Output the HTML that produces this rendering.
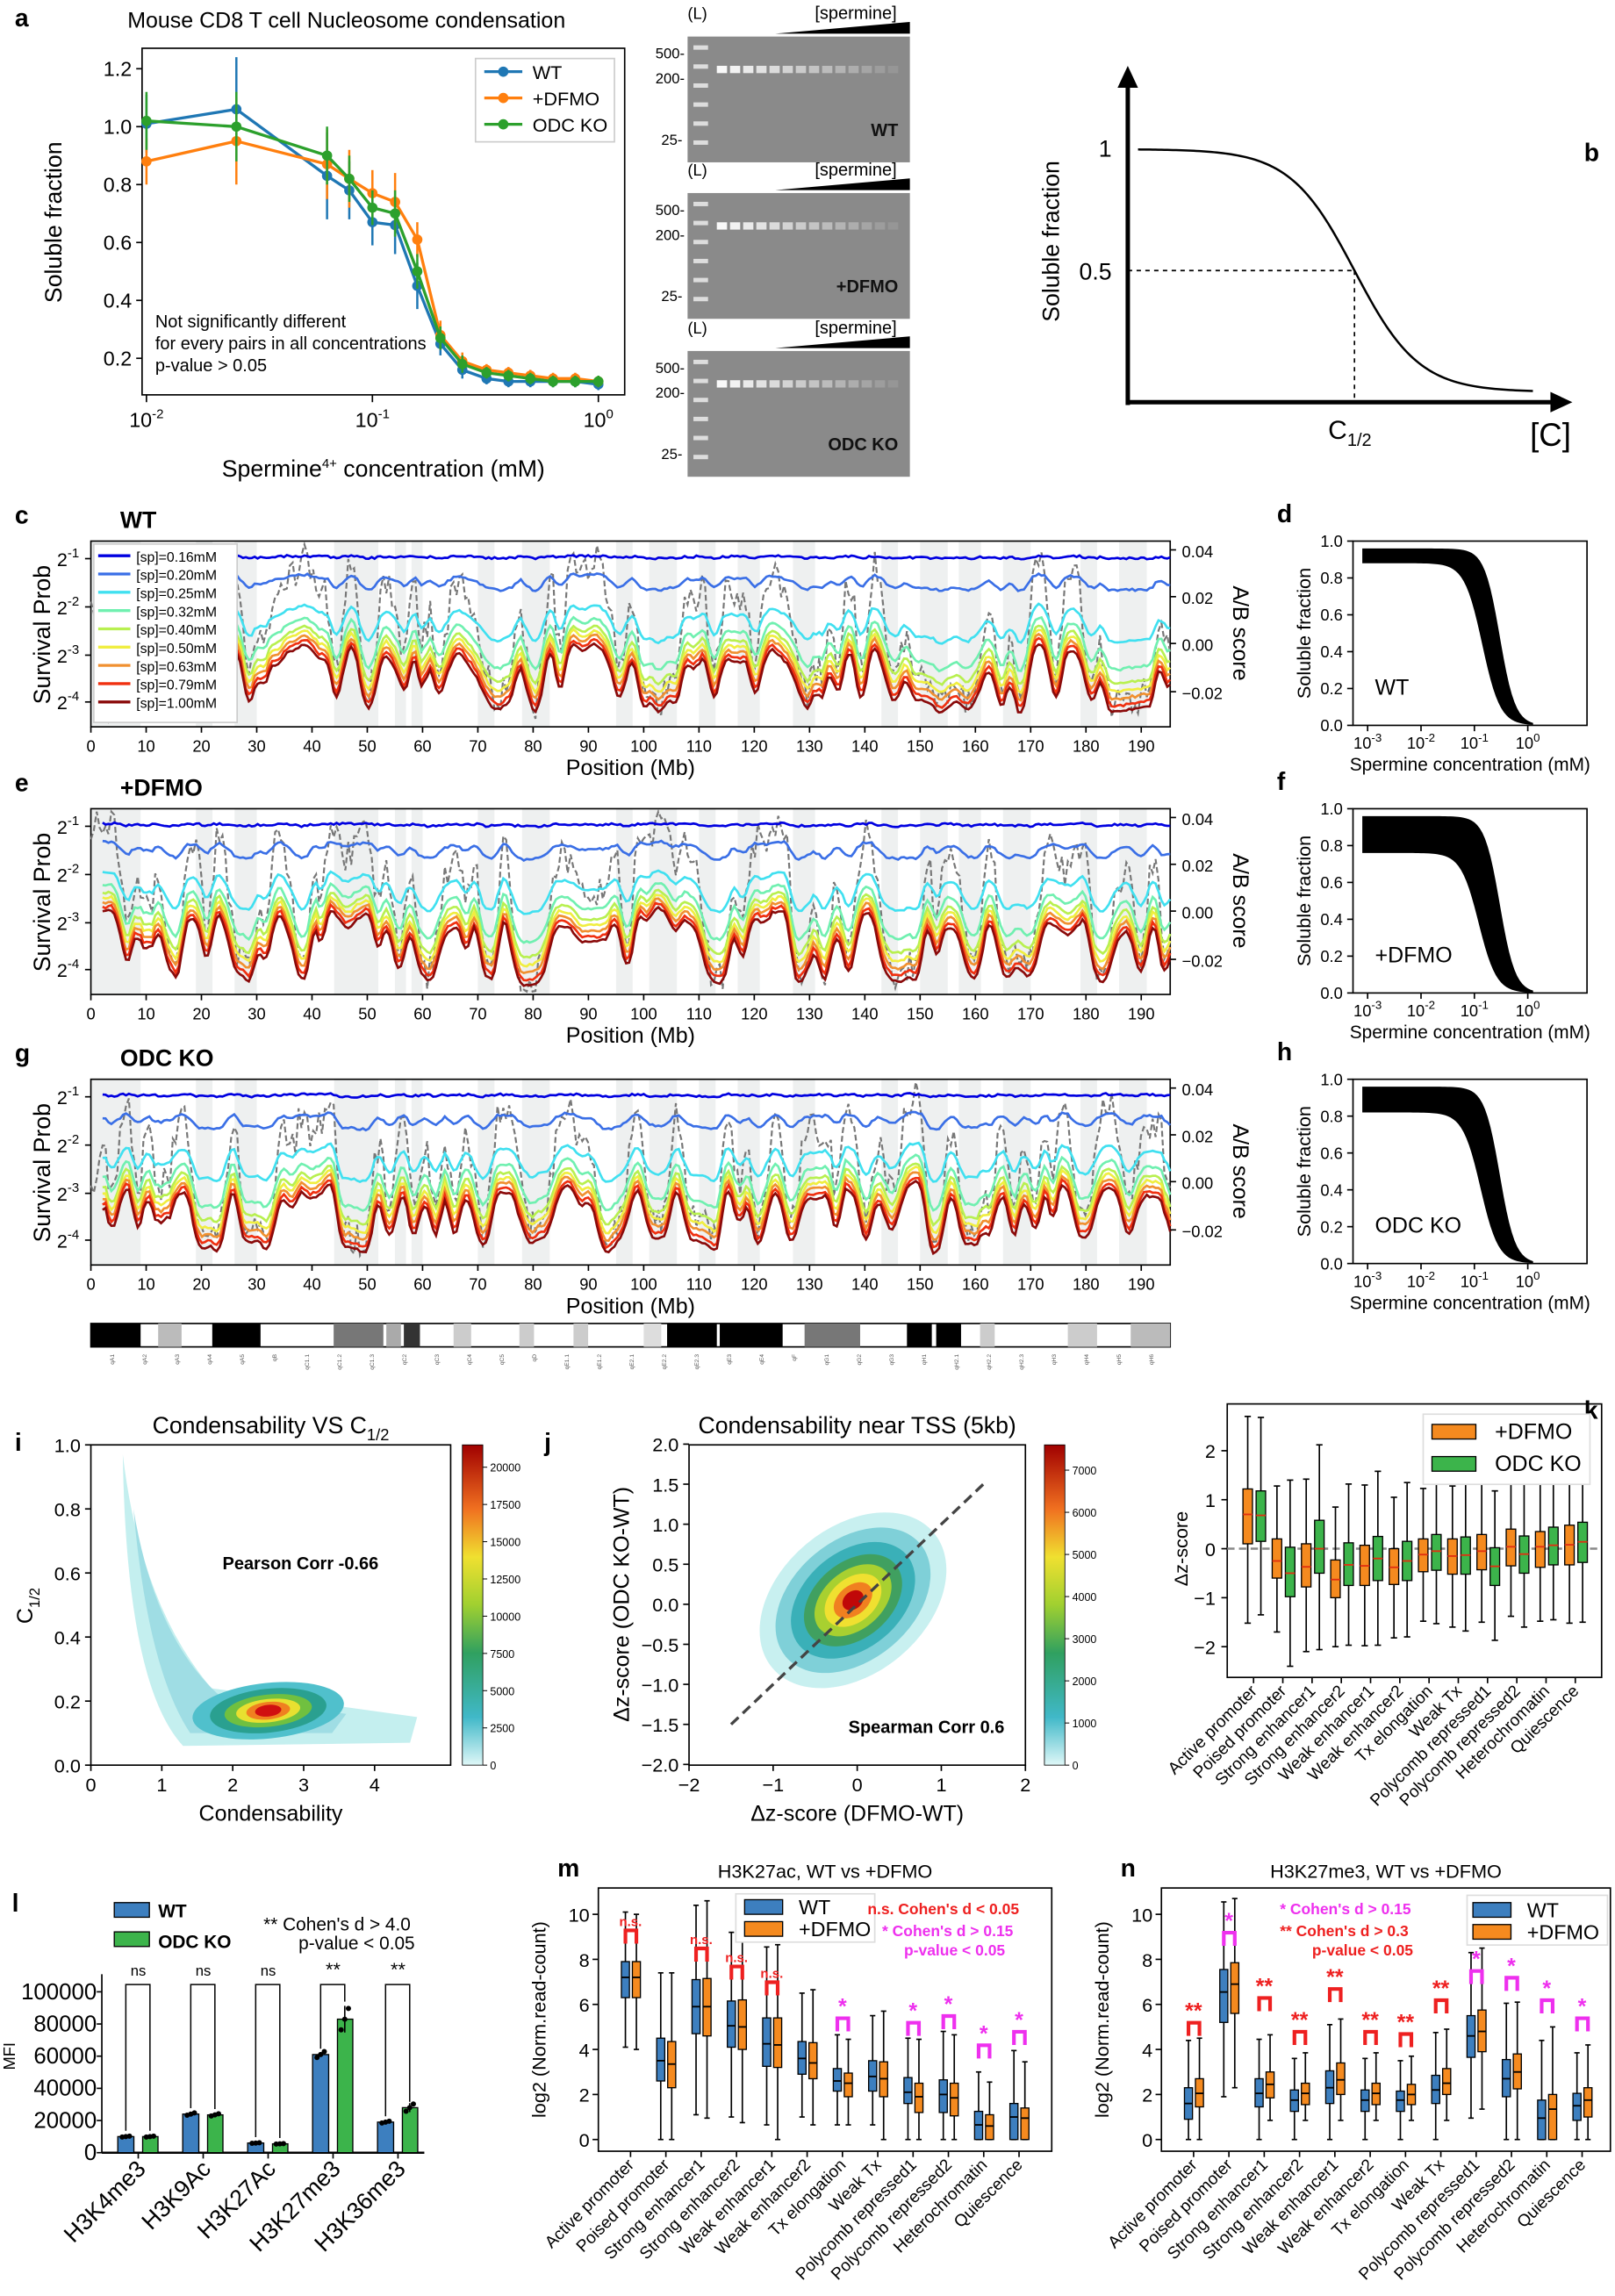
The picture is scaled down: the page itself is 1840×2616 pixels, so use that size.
<!DOCTYPE html>
<html><head><meta charset="utf-8">
<style>
html,body{margin:0;padding:0;background:#fff;}
svg{display:block;font-family:"Liberation Sans",sans-serif;}
</style></head>
<body>
<svg id="s" width="1840" height="2616" viewBox="0 0 1104 1570" xmlns="http://www.w3.org/2000/svg"></svg>
<script>
const S=document.getElementById('s');let H='';
function t(x,y,s,sz,o){o=o||{};H+=`<text x="${x}" y="${y}" font-size="${sz}" ${o.a?`text-anchor="${o.a}"`:''} ${o.w?'font-weight="bold"':''} fill="${o.c||'#000'}" ${o.r!==undefined?`transform="rotate(${o.r} ${x} ${y})"`:''}>${s}</text>`;}
function L(x1,y1,x2,y2,c,w,d){H+=`<line x1="${x1}" y1="${y1}" x2="${x2}" y2="${y2}" stroke="${c||'#000'}" stroke-width="${w||1}" ${d?`stroke-dasharray="${d}"`:''}/>`;}
function R(x,y,w,h,f,st,sw){H+=`<rect x="${x}" y="${y}" width="${w}" height="${h}" fill="${f||'none'}" ${st?`stroke="${st}" stroke-width="${sw||1}"`:''}/>`;}
function P(d,c,w,f,da){H+=`<path d="${d}" stroke="${c||'#000'}" stroke-width="${w||1}" fill="${f||'none'}" ${da?`stroke-dasharray="${da}"`:''}/>`;}
let seed=7;function rnd(){seed=(seed*16807)%2147483647;return seed/2147483647;}

// ===== panel a =====
t(10,18,'a',17,{w:1});
t(87,19,'Mouse CD8 T cell Nucleosome condensation',15);
R(97,33,330,237,'none','#000');
const ay=v=>245-(v-0.2)*198, ax=c=>100+(Math.log10(c)+2)*154.5;
[0.2,0.4,0.6,0.8,1.0,1.2].forEach(v=>{L(93,ay(v),97,ay(v));t(90,ay(v)+5,v.toFixed(1),14,{a:'end'});});
[[0.01,'10','-2'],[0.1,'10','-1'],[1,'10','0']].forEach(([c,b,e])=>{L(ax(c),270,ax(c),275);H+=`<text x="${ax(c)}" y="292" font-size="14" text-anchor="middle">${b}<tspan dy="-6" font-size="9">${e}</tspan></text>`;});
t(262,326,'Spermine<tspan dy="-6" font-size="9">4+</tspan><tspan dy="6"> concentration (mM)</tspan>',16,{a:'middle'});
t(42,152,'Soluble fraction',16,{a:'middle',r:-90});
const cs=[0.01,0.025,0.063,0.079,0.1,0.126,0.158,0.2,0.25,0.32,0.4,0.5,0.63,0.79,1.0];
const sers=[['#1f77b4',[1.01,1.06,0.83,0.78,0.67,0.66,0.45,0.25,0.16,0.13,0.12,0.12,0.12,0.12,0.11],[.1,.18,.15,.1,.08,.1,.08,.04,.03,.02,.02,.02,.02,.02,.02]],
['#ff7f0e',[0.88,0.95,0.87,0.82,0.77,0.74,0.61,0.28,0.19,0.16,0.15,0.14,0.13,0.13,0.12],[.08,.15,.12,.1,.08,.1,.06,.05,.03,.02,.02,.02,.02,.02,.02]],
['#2ca02c',[1.02,1.0,0.9,0.82,0.72,0.7,0.5,0.27,0.18,0.15,0.14,0.13,0.12,0.12,0.12],[.1,.12,.1,.08,.06,.08,.06,.04,.03,.02,.02,.02,.02,.02,.02]]];
sers.forEach(([c,v,e])=>{let d='';v.forEach((y,i)=>{d+=(i?'L':'M')+ax(cs[i])+' '+ay(y);L(ax(cs[i]),ay(y-e[i]),ax(cs[i]),ay(y+e[i]),c,1.5);});P(d,c,2);v.forEach((y,i)=>H+=`<circle cx="${ax(cs[i])}" cy="${ay(y)}" r="3.5" fill="${c}"/>`);});
R(325,40,95,57,'#fff','#ccc');
['WT','+DFMO','ODC KO'].forEach((n,i)=>{L(331,49+i*18,357,49+i*18,sers[i][0],2);H+=`<circle cx="344" cy="${49+i*18}" r="3.5" fill="${sers[i][0]}"/>`;t(364,54+i*18,n,13);});
t(106,224,'Not significantly different',12);t(106,239,'for every pairs in all concentrations',12);t(106,254,'p-value &gt; 0.05',12);
[[15,'WT'],[122,'+DFMO'],[230,'ODC KO']].forEach(([y0,lab])=>{
 t(470,y0-2,'(L)',11);t(557,y0-2,'[spermine]',12);H+=`<polygon points="530,${y0+8} 622,${y0} 622,${y0+8}" fill="#000"/>`;
 R(470,y0+10,152,86,'#8a8a8a');
 for(let k=0;k<6;k++)R(474,y0+16+k*13,10,3,'#ddd');
 for(let k=0;k<14;k++){const o=Math.max(0.05,0.95-k*0.065);H+=`<rect x="${490+k*9}" y="${y0+30}" width="7" height="5" fill="#fff" opacity="${o}"/>`;}
 t(448,y0+25,'500-',10);t(448,y0+42,'200-',10);t(452,y0+84,'25-',10);
 t(614,y0+78,lab,12,{a:'end',w:1,c:'#111'});
});

// ===== panel b =====
t(1083,110,'b',17,{w:1});
P('M771 277 L771 52',"#000",3);H+='<polygon points="764,60 771,45 778,60" fill="#000"/>';
P('M771 275 L1065 275',"#000",3);H+='<polygon points="1060,268 1075,275 1060,282" fill="#000"/>';
{let d='';for(let x=778;x<=1048;x+=2){const y=268-166/(1+Math.exp((x-926)/22));d+=(x==778?'M':'L')+x+' '+y;}P(d,'#000',1.5);}
L(771,185,926,185,'#000',1,'3,3');L(926,185,926,275,'#000',1,'3,3');
t(760,107,'1',16,{a:'end'});t(760,191,'0.5',16,{a:'end'});
t(724,165,'Soluble fraction',16,{a:'middle',r:-90});
t(908,300,'C<tspan dy="5" font-size="12">1/2</tspan>',18);t(1046,305,'[C]',22);

// ===== tracks c,e,g =====
const xm=m=>62+m*3.78;
const bands=[[0,9],[19,22],[26,30],[44,52],[55,57],[58,60],[70,73],[78,83],[95,98],[101,106],[110,113],[117,121],[127,131],[143,146],[150,155],[157,161],[165,170],[179,182],[186,191]];
const N=738;
function makeSig(sd){seed=sd;let tg=[];let i=0;while(i<=N+20){const m=i/3.78;const inb=bands.some(b=>m>=b[0]&&m<=b[1]);let v=rnd();v=inb?(v<0.3?0.7+rnd()*0.3:rnd()*0.3):(v<0.35?rnd()*0.3:0.55+rnd()*0.45);const len=2+Math.floor(rnd()*9);tg.push([i,v]);i+=len;}
 let s=[];let k=0;for(let i=0;i<=N;i++){while(tg[k+1][0]<i)k++;const u=(i-tg[k][0])/(tg[k+1][0]-tg[k][0]);s.push(tg[k][1]*(1-u)+tg[k+1][1]*u);}
 return s.map((v,i)=>{let a=0,n=0;for(let q=-3;q<=3;q++){const j=i+q;if(j>=0&&j<=N){a+=s[j];n++;}}return a/n;});}
const cols=['#0000e0','#3a6fe6','#40e0f0','#70f0b0','#b8f050','#f0ee40','#f09030','#f03010','#8a0a0a'];
const lows=[12,35,72,92,102,108,113,118,122], highs=[10,22,42,50,55,58,61,64,67];
function track(y0,lab,ltr,legend,sd){
 const sg=makeSig(sd);
 t(10,y0-12,ltr,17,{w:1});t(82,y0-9,lab,16,{w:1});
 bands.forEach(b=>R(xm(b[0]),y0,(b[1]-b[0])*3.78,127,'#eef0f0'));
 R(62,y0,738,127,'none','#000');
 let d='';seed=sd+3;for(let i=0;i<=N;i+=2){let v=sg[i]+(rnd()-0.5)*0.2;let y=y0+122-v*118;y=Math.min(y0+125,Math.max(y0+2,y));d+=(i?'L':'M')+(62+i)+' '+y.toFixed(1);}P(d,'#777',1.3,'none','4,2');
 lows.forEach((lw,k)=>{let d='';seed=100+k+sd;for(let i=8;i<=N;i+=2){let y=y0+lw-(lw-highs[k])*sg[i]+(rnd()-0.5)*1.6;if(k==0)y=y0+12+(rnd()-0.5)*1.5-sg[i]*2;y=Math.min(y0+125,Math.max(y0+2,y));d+=(i==8?'M':'L')+(62+i)+' '+y.toFixed(1);}P(d,cols[k],1.6);});
 [[-1,12],[-2,45],[-3,78],[-4,110]].forEach(([e,o])=>{L(58,y0+o,62,y0+o);t(54,y0+o+5,`2<tspan dy="-6" font-size="9">${e}</tspan>`,13,{a:'end'});});
 [['0.04',6],['0.02',38],['0.00',70],['−0.02',103]].forEach(([s,o])=>{L(800,y0+o,804,y0+o);t(808,y0+o+5,s,11);});
 t(843,y0+63,'A/B score',15,{a:'middle',r:90});
 t(34,y0+64,'Survival Prob',16,{a:'middle',r:-90});
 for(let m=0;m<=190;m+=10){L(xm(m),y0+127,xm(m),y0+131);t(xm(m),y0+144,m,11,{a:'middle'});}
 t(431,y0+160,'Position (Mb)',15,{a:'middle'});
 if(legend){R(64,y0+2,98,122,'#fff','#ccc');['0.16','0.20','0.25','0.32','0.40','0.50','0.63','0.79','1.00'].forEach((v,i)=>{L(67,y0+10+i*12.5,89,y0+10+i*12.5,cols[i],2);t(93,y0+14+i*12.5,`[sp]=${v}mM`,9.5);});}
}
track(370,'WT','c',true,21);track(553,'+DFMO','e',false,22);track(738,'ODC KO','g',false,23);
R(62,905,738,16,'#fff','#000');
[[62,96,'#000'],[108,124,'#bbb'],[145,178,'#000'],[228,262,'#777'],[264,274,'#aaa'],[276,287,'#333'],[310,322,'#ccc'],[355,365,'#ccc'],[392,402,'#ccc'],[440,452,'#ddd'],[456,490,'#000'],[492,535,'#000'],[550,588,'#777'],[620,637,'#000'],[640,657,'#000'],[670,680,'#ccc'],[730,750,'#ccc'],[773,800,'#bbb']].forEach(a=>R(a[0],905,a[1]-a[0],16,a[2]));
['qA1','qA2','qA3','qA4','qA5','qB','qC1.1','qC1.2','qC1.3','qC2','qC3','qC4','qC5','qD','qE1.1','qE1.2','qE2.1','qE2.2','qE2.3','qE3','qE4','qF','qG1','qG2','qG3','qH1','qH2.1','qH2.2','qH2.3','qH3','qH4','qH5','qH6'].forEach((s,i)=>t(78+i*22.2,926,s,4,{r:-90,a:'end',c:'#555'}));

function sig(y0,lab,ltr,spread,c2){
 t(873,y0-13,ltr,17,{w:1});
 R(925,y0,160,126,'none','#000');
 const xl=l=>935+(l+3)*36.5;const yv=v=>y0+126-v*126;
 [[0,'0.0'],[.2,'0.2'],[.4,'0.4'],[.6,'0.6'],[.8,'0.8'],[1,'1.0']].forEach(([v,s])=>{L(921,yv(v),925,yv(v));t(918,yv(v)+4,s,11,{a:'end'});});
 [-3,-2,-1,0].forEach(e=>{L(xl(e),y0+126,xl(e),y0+130);t(xl(e),y0+142,`10<tspan dy="-5" font-size="8">${e}</tspan>`,11,{a:'middle'});});
 t(1005,y0+157,'Spermine concentration (mM)',12.5,{a:'middle'});
 t(896,y0+63,'Soluble fraction',13,{a:'middle',r:-90});
 let pts=[],pts2=[];for(let l=-3.1;l<=0.1;l+=0.05){const c=Math.pow(10,l);pts.push([xl(l),yv(0.96/(1+Math.pow(c/0.3,3)))]);pts2.push([xl(l),yv((0.96-spread)/(1+Math.pow(c/c2,2.6)))]);}
 let d='M'+pts.map(p=>p.join(' ')).join('L')+'L'+pts2.reverse().map(p=>p.join(' ')).join('L')+'Z';
 H+=`<clipPath id="cl${ltr}"><rect x="925" y="${y0}" width="160" height="126"/></clipPath><path d="${d}" fill="#000" clip-path="url(#cl${ltr})"/>`;
 t(940,y0+105,lab,15);
}
sig(370,'WT','d',0.08,0.14);sig(553,'+DFMO','f',0.2,0.12);sig(738,'ODC KO','h',0.14,0.13);

// ===== panel i =====
t(10,992,'i',17,{w:1});t(185,980,'Condensability VS C<tspan dy="5" font-size="11">1/2</tspan>',16,{a:'middle'});
R(62,988,246,219,'none','#000');
const ix=v=>62+v*48.5, iy=v=>1207-v*219;
[[0,'0.0'],[.2,'0.2'],[.4,'0.4'],[.6,'0.6'],[.8,'0.8'],[1,'1.0']].forEach(([v,s])=>{L(58,iy(v),62,iy(v));t(55,iy(v)+5,s,13,{a:'end'});});
[0,1,2,3,4].forEach(v=>{L(ix(v),1207,ix(v),1211);t(ix(v),1225,v,13,{a:'middle'});});
t(185,1245,'Condensability',15,{a:'middle'});t(22,1098,'C<tspan dy="5" font-size="10">1/2</tspan>',15,{a:'middle',r:-90});
H+=`<path d="M${ix(0.45)} ${iy(0.97)} Q${ix(0.7)} ${iy(0.5)} ${ix(1.7)} ${iy(0.24)} L${ix(4.6)} ${iy(0.15)} L${ix(4.5)} ${iy(0.07)} L${ix(1.3)} ${iy(0.06)} Q${ix(0.5)} ${iy(0.25)} ${ix(0.45)} ${iy(0.97)}Z" fill="#c4efef"/>`;
H+=`<path d="M${ix(0.6)} ${iy(0.8)} Q${ix(0.9)} ${iy(0.4)} ${ix(1.8)} ${iy(0.22)} L${ix(3.6)} ${iy(0.16)} L${ix(3.4)} ${iy(0.1)} L${ix(1.4)} ${iy(0.1)} Q${ix(0.8)} ${iy(0.3)} ${ix(0.6)} ${iy(0.8)}Z" fill="#9fdde4"/>`;
[['#50c0cc',52,19],['#2aa090',40,15],['#70c040',30,11],['#e8e030',22,8],['#f08020',15,6],['#d01010',9,4]].forEach(([c,rx,ry])=>H+=`<ellipse cx="${ix(2.5)}" cy="${iy(0.17)}" rx="${rx}" ry="${ry}" fill="${c}" transform="rotate(-6 ${ix(2.5)} ${iy(0.17)})"/>`);
t(152,1073,'Pearson Corr -0.66',12,{w:1});
function cbar(x,y0,h,ticks,max){H+=`<defs><linearGradient id="g${x}" x1="0" y1="1" x2="0" y2="0"><stop offset="0" stop-color="#dff7f7"/><stop offset="0.15" stop-color="#40b8c8"/><stop offset="0.35" stop-color="#30a060"/><stop offset="0.5" stop-color="#a0d030"/><stop offset="0.65" stop-color="#f0e030"/><stop offset="0.8" stop-color="#f07020"/><stop offset="1" stop-color="#a00000"/></linearGradient></defs>`;R(x,y0,14,h,`url(#g${x})`,'#000',0.5);ticks.forEach(v=>{const y=y0+h-v/max*h;L(x+14,y,x+17,y,'#000',.6);t(x+19,y+3,v,7.5);});}
cbar(316,988,219,[0,2500,5000,7500,10000,12500,15000,17500,20000],21500);

// ===== panel j =====
t(372,992,'j',17,{w:1});t(586,980,'Condensability near TSS (5kb)',16,{a:'middle'});
R(471,988,230,219,'none','#000');
const jx=v=>586+v*57.5, jy=v=>1097-v*54.75;
[2,1.5,1,0.5,0,-0.5,-1,-1.5,-2].forEach(v=>{L(467,jy(v),471,jy(v));t(464,jy(v)+5,v.toFixed(1).replace('-','−'),13,{a:'end'});});
[-2,-1,0,1,2].forEach(v=>{L(jx(v),1207,jx(v),1211);t(jx(v),1225,String(v).replace('-','−'),13,{a:'middle'});});
t(586,1245,'Δz-score (DFMO-WT)',15,{a:'middle'});t(430,1097,'Δz-score (ODC KO-WT)',15,{a:'middle',r:-90});
[['#c8f0f0',72,50],['#7fd0d8',60,41],['#3ab0b8',48,33],['#40a060',38,26],['#a8d030',30,20],['#f0e030',22,15],['#f08020',15,10],['#c00808',8,6]].forEach(([c,rx,ry])=>H+=`<ellipse cx="${jx(-0.05)}" cy="${jy(0.05)}" rx="${rx}" ry="${ry}" fill="${c}" transform="rotate(-40 ${jx(-0.05)} ${jy(0.05)})"/>`);
L(jx(-1.5),jy(-1.5),jx(1.5),jy(1.5),'#444',2,'7,4');
t(580,1185,'Spearman Corr 0.6',12,{w:1});
cbar(714,988,219,[0,1000,2000,3000,4000,5000,6000,7000],7600);

function box(cx,w,q1,med,q3,lo,hi,col,yf,mc){const a=yf(q3),b=yf(q1);L(cx,yf(hi),cx,a);L(cx,b,cx,yf(lo));L(cx-w/3,yf(hi),cx+w/3,yf(hi));L(cx-w/3,yf(lo),cx+w/3,yf(lo));R(cx-w/2,a,w,b-a,col,'#000',0.8);L(cx-w/2,yf(med),cx+w/2,yf(med),mc||'#000',1.1);}
const cats=['Active promoter','Poised promoter','Strong enhancer1','Strong enhancer2','Weak enhancer1','Weak enhancer2','Tx elongation','Weak Tx','Polycomb repressed1','Polycomb repressed2','Heterochromatin','Quiescence'];

// ===== panel k =====
t(1083,970,'k',17,{w:1});
R(839,960,256,187,'none','#000');
const ky=v=>1059-v*33.5;
[2,1,0,-1,-2].forEach(v=>{L(835,ky(v),839,ky(v));t(831,ky(v)+5,String(v).replace('-','−'),13,{a:'end'});});
t(812,1059,'Δz-score',13,{a:'middle',r:-90});
L(839,ky(0),1095,ky(0),'#888',1.5,'5,3');
const kd=[[0.1,0.7,1.22,-1.52,2.7, 0.15,0.68,1.18,-1.35,2.68],[-0.6,-0.25,0.2,-1.7,1.28, -0.98,-0.5,0.03,-2.4,1.4],[-0.78,-0.37,0.1,-2.1,1.42, -0.5,0,0.58,-2.06,2.12],[-1,-0.63,-0.23,-2.0,0.85, -0.75,-0.33,0.12,-1.97,1.32],[-0.75,-0.35,0.07,-1.98,1.3, -0.65,-0.2,0.25,-1.97,1.58],[-0.73,-0.38,0,-1.82,1.05, -0.65,-0.25,0.15,-1.8,1.35],[-0.47,-0.12,0.2,-1.48,1.23, -0.44,-0.05,0.29,-1.53,1.4],[-0.52,-0.15,0.2,-1.6,1.28, -0.52,-0.13,0.24,-1.68,1.38],[-0.43,-0.05,0.29,-1.5,1.35, -0.75,-0.36,0.02,-1.87,1.18],[-0.35,0.04,0.4,-1.38,1.43, -0.5,-0.11,0.26,-1.6,1.43],[-0.38,0.04,0.35,-1.48,1.43, -0.33,0.07,0.44,-1.45,1.45],[-0.33,0.08,0.48,-1.52,1.5, -0.28,0.14,0.54,-1.5,1.53]];
cats.forEach((c,i)=>{const cx=857+i*20,d=kd[i];box(cx-4,6.5,d[0],d[1],d[2],d[3],d[4],'#f58a1f',ky,'#e03010');box(cx+5,6.5,d[5],d[6],d[7],d[8],d[9],'#3cb44b',ky,'#e03010');L(cx,1147,cx,1151);t(cx+3,1157,c,11.5,{a:'end',r:-45});});
R(973,967,114,48,'#fff','#ddd');R(979,974,30,10,'#f58a1f','#000',0.8);t(1022,984,'+DFMO',15);R(979,996,30,10,'#3cb44b','#000',0.8);t(1022,1006,'ODC KO',15);

// ===== panel l =====
t(8,1307,'l',17,{w:1});
L(69.5,1350,69.5,1472);L(69.5,1472,290,1472,'#000',1.5);
const ly=v=>1472-v*0.0011;
[0,20000,40000,60000,80000,100000].forEach(v=>{L(66,ly(v),69.5,ly(v));t(66,ly(v)+5,v,15.5,{a:'end'});});
t(10,1406,'MFI',11,{a:'middle',r:-90});
R(78,1301,24,10,'#3d7fbf','#000',0.8);t(108,1311,'WT',12.5,{w:1});R(78,1321,24,10,'#3cb44b','#000',0.8);t(108,1332,'ODC KO',12.5,{w:1});
t(180,1320,'** Cohen\'s d &gt; 4.0',12.5);t(204,1333,'p-value &lt; 0.05',12.5);
const lv=[[10000,10000],[24000,23500],[6000,5500],[61000,83000],[19000,28000]];
['H3K4me3','H3K9Ac','H3K27Ac','H3K27me3','H3K36me3'].forEach((n,i)=>{const cx=94.4+i*44.4;
 R(cx-14,ly(lv[i][0]),11,1472-ly(lv[i][0]),'#3d7fbf','#000',0.8);R(cx+3,ly(lv[i][1]),10.5,1472-ly(lv[i][1]),'#3cb44b','#000',0.8);
 [-1,0,1].forEach(k=>{H+=`<circle cx="${cx-8.5+k*2.5}" cy="${ly(lv[i][0]*(1+k*0.03))}" r="1.8"/><circle cx="${cx+8+k*2.5}" cy="${ly(lv[i][1]*(1+k*(i>2?0.08:0.03)))}" r="1.8"/>`;});
 if(i>2)L(cx+8,ly(lv[i][1]*1.1),cx+8,ly(lv[i][1]*0.9));
 P(`M${cx-8.5} ${ly(lv[i][0])-4}V1357H${cx+8}V${i==3?ly(lv[i][1])-12:ly(lv[i][1])-4}`,'#000',0.9);
 t(cx,1351,i<3?'ns':'**',i<3?10:13,{a:'middle'});
 L(cx,1472,cx,1476);
 t(cx+6,1484,n,16,{a:'end',r:-45});});

// ===== panels m,n =====
function bpanel(x0,x1,tk0,title,ltr,dat,stars,bb){
 t(x0-28,1283,ltr,17,{w:1});t((x0+x1)/2,1284,title,13,{a:'middle'});
 R(x0,1291,x1-x0,180,'none','#000');
 const yy=v=>1463-v*15.4;[0,2,4,6,8,10].forEach(v=>{L(x0-4,yy(v),x0,yy(v));t(x0-6,yy(v)+5,v,13,{a:'end'});});
 t(x0-36,1381,'log2 (Norm.read-count)',13,{a:'middle',r:-90});
 const sp=24.15;
 dat.forEach((d,i)=>{const cx=tk0+sp*i;
  box(cx-3.5,5.5,d[0],d[1],d[2],d[3],d[4],'#3d7fbf',yy);box(cx+4,5.5,d[5],d[6],d[7],d[8],d[9],'#f58a1f',yy);
  const s=stars[i];if(s){const c=s=='*'?'#ee30ee':'#ee2020';const bot=yy(bb[i]),top=bot-9;P(`M${cx-3.5} ${bot}V${top}H${cx+4}V${bot}`,c,2.5);t(cx,top-3,s=='ns'?'n.s.':s,s=='ns'?9:15,{a:'middle',c,w:1});}
  L(cx,1471,cx,1475);t(cx+3,1481,cats[i],11.5,{a:'end',r:-45});});
}
const md=[[6.3,7.2,7.9,4.1,10.1, 6.3,7.2,7.9,4.0,10.0],[2.6,3.5,4.5,0,7.4, 2.3,3.35,4.35,0,7.4],[4.7,5.9,7.1,1.1,10.4, 4.6,5.9,7.15,0.95,10.6],[4.1,5.05,6.15,1.0,9.2, 4.0,5.0,6.2,0.75,9.4],[3.25,4.25,5.4,0.65,8.55, 3.2,4.2,5.4,0,8.65],[2.9,3.6,4.35,1.0,6.5, 2.7,3.4,4.3,0.65,6.65],[2.15,2.6,3.15,0.65,4.65, 1.9,2.5,2.95,0.65,4.45],[2.15,2.8,3.5,0.65,5.5, 1.9,2.7,3.45,0,5.7],[1.6,2.1,2.75,0,4.5, 1.2,1.9,2.5,0,4.45],[1.2,2.0,2.65,0,4.8, 1.05,1.85,2.5,0,4.65],[0,0.65,1.25,0,3.0, 0,0.6,1.1,0,2.55],[0,1.0,1.6,0,3.95, 0,0.95,1.4,0,3.45]];
bpanel(409,719,431,'H3K27ac, WT vs +DFMO','m',md,['ns','','ns','ns','ns','','*','','*','*','*','*'],[8.7,0,7.9,7.1,6.4,0,4.8,0,4.6,4.9,3.6,4.2]);
R(503,1295,95,33,'#fff','#ddd');R(509,1299,26,10,'#3d7fbf','#000',0.8);t(546,1309,'WT',14);R(509,1314,26,10,'#f58a1f','#000',0.8);t(546,1324,'+DFMO',14);
t(593,1309,'n.s. Cohen\'s d &lt; 0.05',10.5,{w:1,c:'#ee2020'});t(603,1324,'* Cohen\'s d &gt; 0.15',10.5,{w:1,c:'#ee30ee'});t(618,1337,'p-value &lt; 0.05',10.5,{w:1,c:'#ee30ee'});
const nd=[[0.9,1.6,2.3,0,4.4, 1.45,2.05,2.7,0,4.5],[5.2,6.55,7.55,1.9,10.55, 5.6,6.9,7.85,2.3,10.7],[1.45,2.05,2.7,0,4.45, 1.85,2.45,3.0,0.85,4.65],[1.25,1.75,2.2,0,3.6, 1.55,2.05,2.5,0.85,3.85],[1.6,2.3,3.05,0,5.1, 2.0,2.65,3.4,0.85,5.35],[1.25,1.75,2.2,0,3.6, 1.55,2.05,2.5,0.85,3.85],[1.25,1.75,2.15,0,3.5, 1.55,2.0,2.45,0.85,3.7],[1.6,2.2,2.85,0,4.75, 2.0,2.5,3.15,0.85,4.9],[3.65,4.6,5.5,0.95,8.3, 3.9,4.8,5.75,1.35,8.5],[1.9,2.7,3.55,0,6.05, 2.25,3.0,3.8,0,6.1],[0,0.95,1.75,0,4.4, 0,1.35,2.0,0,5.0],[0.85,1.5,2.05,0,3.85, 1.0,1.75,2.3,0,4.2]];
bpanel(794,1101,816,'H3K27me3, WT vs +DFMO','n',nd,['**','*','**','**','**','**','**','**','*','*','*','*'],[4.6,8.6,5.7,4.2,6.1,4.2,4.1,5.6,6.9,6.6,5.6,4.8]);
t(875,1309,'* Cohen\'s d &gt; 0.15',10.5,{w:1,c:'#ee30ee'});t(875,1324,'** Cohen\'s d &gt; 0.3',10.5,{w:1,c:'#ee2020'});t(897,1337,'p-value &lt; 0.05',10.5,{w:1,c:'#ee2020'});
R(1003,1296,96,34,'#fff','#ddd');R(1007,1301,26,10,'#3d7fbf','#000',0.8);t(1044,1311,'WT',14);R(1007,1316,26,10,'#f58a1f','#000',0.8);t(1044,1326,'+DFMO',14);
S.innerHTML=H;
</script>
</body></html>
